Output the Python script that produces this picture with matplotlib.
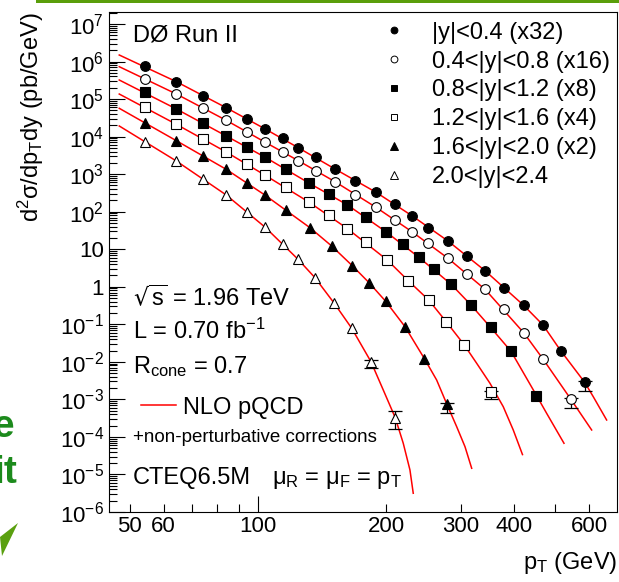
import matplotlib
matplotlib.use("Agg")
import numpy as np
import matplotlib.pyplot as plt
from matplotlib.lines import Line2D
from matplotlib.patches import Polygon, Rectangle
from matplotlib.ticker import FixedLocator, FixedFormatter, NullFormatter

plt.rcParams['font.family'] = ['Liberation Sans', 'DejaVu Sans']
plt.rcParams['mathtext.default'] = 'regular'

# ---------------- data ----------------
bin_labels = ['|y|<0.4 (x32)', '0.4<|y|<0.8 (x16)', '0.8<|y|<1.2 (x8)',
              '1.2<|y|<1.6 (x4)', '1.6<|y|<2.0 (x2)', '2.0<|y|<2.4']
scale = [32, 16, 8, 4, 2, 1]

# measured cross sections d2sigma/dpT dy (pb/GeV), unscaled
pt_y0 = [54.2, 64.3, 74.4, 84.2, 94.1, 104.0, 114.5, 124.4, 136.9, 151.7, 169.5, 189.4,
         209.9, 230.1, 251.6, 279.6, 309.4, 341.7, 379.3, 421.2, 467.6, 514.4, 586.0]
xs_y0 = [2.42e4, 9.08e3, 3.85e3, 1.84e3, 9.20e2, 4.99e2, 2.82e2, 1.58e2, 89.5, 42.9, 20.9,
         10.3, 4.92, 2.44, 1.17, 0.519, 0.210, 0.0838, 0.0290, 0.0100, 3.00e-3, 5.97e-4, 8.9e-5]

pt_y1 = [54.2, 64.3, 74.4, 84.2, 94.1, 104.0, 114.5, 124.4, 136.9, 151.7, 169.5, 189.4,
         209.9, 230.1, 251.6, 279.6, 309.4, 341.7, 379.3, 421.2, 467.6, 543.2]
xs_y1 = [2.18e4, 8.53e3, 3.55e3, 1.70e3, 8.45e2, 4.41e2, 2.48e2, 1.43e2, 77.3, 39.4, 17.7,
         8.18, 3.83, 1.83, 0.889, 0.359, 0.139, 0.0536, 0.0157, 3.74e-3, 7.45e-4, 6.41e-5]

pt_y2 = [54.2, 64.3, 74.4, 84.2, 94.1, 104.0, 116.6, 132.1, 147.2, 162.3, 179.7, 199.8,
         219.5, 238.9, 259.3, 284.7, 316.2, 352.0, 393.3, 450.1]
xs_y2 = [1.90e4, 6.81e3, 2.94e3, 1.30e3, 6.50e2, 3.52e2, 1.75e2, 71.4, 37.0, 18.9, 8.87,
         3.66, 1.69, 0.762, 0.361, 0.144, 0.0417, 0.0104, 2.39e-3, 1.54e-4]

pt_y3 = [54.2, 64.3, 74.4, 84.2, 94.1, 104.0, 116.6, 132.0, 146.8, 162.3, 179.7, 201.3,
         225.5, 251.9, 276.9, 304.9, 352.3]
xs_y3 = [1.57e4, 5.32e3, 2.20e3, 9.73e2, 4.67e2, 2.33e2, 1.16e2, 44.5, 20.8, 8.81, 3.83,
         1.29, 0.363, 0.111, 0.0294, 7.24e-3, 3.82e-4]

pt_y4 = [54.2, 64.3, 74.4, 84.2, 94.1, 104.0, 116.6, 132.5, 149.0, 166.6, 182.4, 199.6,
         221.6, 246.0, 278.0]
xs_y4 = [1.13e4, 3.89e3, 1.55e3, 6.73e2, 2.86e2, 1.37e2, 55.5, 18.7, 6.10, 1.82, 0.643,
         0.205, 0.0432, 6.14e-3, 3.70e-4]

pt_y5 = [54.2, 64.3, 74.4, 84.2, 94.1, 104.0, 114.3, 124.2, 136.1, 151.1, 166.1, 184.3, 210.2]
xs_y5 = [7.06e3, 2.24e3, 7.30e2, 2.79e2, 1.00e2, 38.4, 14.1, 5.40, 1.75, 0.363, 0.0783,
         0.0101, 3.25e-4]

# relative uncertainties of the highest-pT points (down, up)
err_lo = [[0.40], [0.42], [], [0.35], [0.41], [0.31, 0.49]]
err_hi = [[0.08], [0.08], [], [0.08], [0.08], [0.08, 0.54]]

# NLO pQCD (CTEQ6.5M) + non-perturbative corrections, unscaled
nlo_pt_y0 = [47.2, 64.3, 84.2, 104.0, 124.4, 151.7, 189.4, 230.1, 279.6, 341.7, 421.2,
             467.6, 514.4, 586.0, 613.8, 659.9]
nlo_y0 = [4.67e4, 9.08e3, 1.84e3, 4.99e2, 1.58e2, 42.9, 10.3, 2.44, 0.519, 0.0838, 0.0100,
          3.00e-3, 6.24e-4, 8.91e-5, 3.69e-5, 8.83e-6]

nlo_pt_y1 = [47.2, 64.3, 84.2, 104.0, 124.4, 151.7, 189.4, 230.1, 279.6, 341.7, 421.2,
             467.6, 543.2, 608.5]
nlo_y1 = [4.56e4, 8.53e3, 1.70e3, 4.42e2, 1.43e2, 39.4, 8.18, 1.83, 0.359, 0.0536, 3.74e-3,
          7.45e-4, 6.41e-5, 9.57e-6]

nlo_pt_y2 = [47.2, 64.3, 84.2, 104.0, 132.1, 162.3, 199.8, 238.9, 284.7, 316.2, 352.0,
             393.3, 450.1, 476.9, 523.9]
nlo_y2 = [4.03e4, 6.81e3, 1.30e3, 3.52e2, 71.4, 18.9, 3.66, 0.762, 0.144, 0.0417, 0.0104,
          2.39e-3, 1.69e-4, 5.33e-5, 8.47e-6]

nlo_pt_y3 = [47.2, 64.3, 84.2, 104.0, 132.0, 162.3, 201.3, 225.5, 251.9, 276.9, 304.9,
             326.6, 351.0, 377.1, 398.1, 418.5]
nlo_y3 = [3.41e4, 5.32e3, 9.73e2, 2.33e2, 44.5, 8.81, 1.29, 0.363, 0.111, 0.0294, 7.24e-3,
          2.29e-3, 6.71e-4, 1.60e-4, 3.83e-5, 8.47e-6]

nlo_pt_y4 = [47.2, 64.3, 84.2, 104.0, 132.5, 149.0, 166.6, 182.4, 199.6, 221.6, 246.0,
             263.0, 278.0, 293.1, 306.6, 317.9]
nlo_y4 = [2.84e4, 3.89e3, 6.73e2, 1.37e2, 18.7, 6.10, 1.82, 0.643, 0.205, 0.0432, 6.14e-3,
          1.64e-3, 3.70e-4, 9.38e-5, 2.75e-5, 7.31e-6]

nlo_pt_y5 = [47.2, 64.3, 84.2, 104.0, 124.2, 136.1, 151.1, 166.1, 184.3, 197.0, 210.2,
             219.5, 227.6, 231.7]
nlo_y5 = [1.92e4, 2.24e3, 2.79e2, 38.4, 5.40, 1.75, 0.363, 0.0783, 0.0101, 1.78e-3,
          3.25e-4, 6.78e-5, 1.32e-5, 3.16e-6]

y_tick_vals = [1e-6, 1e-5, 1e-4, 1e-3, 1e-2, 1e-1, 1, 10, 1e2, 1e3, 1e4, 1e5, 1e6, 1e7]
y_tick_labels = ['10$^{-6}$', '10$^{-5}$', '10$^{-4}$', '10$^{-3}$', '10$^{-2}$', '10$^{-1}$',
                 '1', '10', '10$^{2}$', '10$^{3}$', '10$^{4}$', '10$^{5}$', '10$^{6}$', '10$^{7}$']
x_minor_vals = [50, 60, 70, 80, 90, 200, 300, 400, 500, 600]
x_minor_labels = ['50', '60', '', '', '', '200', '300', '400', '', '600']

# ---------------- styling ----------------
pts = [pt_y0, pt_y1, pt_y2, pt_y3, pt_y4, pt_y5]
xss = [xs_y0, xs_y1, xs_y2, xs_y3, xs_y4, xs_y5]
nlo_pts = [nlo_pt_y0, nlo_pt_y1, nlo_pt_y2, nlo_pt_y3, nlo_pt_y4, nlo_pt_y5]
nlos = [nlo_y0, nlo_y1, nlo_y2, nlo_y3, nlo_y4, nlo_y5]
markers = ['o', 'o', 's', 's', '^', '^']
filled = [True, False, True, False, True, False]
msizes = [7.0, 7.0, 6.6, 6.6, 7.4, 7.4]

W, H = 619, 582
fig = plt.figure(figsize=(W / 100, H / 100), dpi=100)
ax = fig.add_axes([109 / W, 70 / H, 508 / W, 500 / H])
ax.set_xscale('log')
ax.set_yscale('log')
ax.set_xlim(44.65, 698)
ax.set_ylim(1e-6, 2.09e7)

for i in range(6):
    s = scale[i]
    ax.plot(nlo_pts[i], np.array(nlos[i]) * s, color='#ff0000', lw=1.1, zorder=2)

for i in range(6):
    s = scale[i]
    x = np.array(pts[i])
    y = np.array(xss[i]) * s
    n = len(err_lo[i])
    if n:
        xe = x[-n:]
        ye = y[-n:]
        lo = ye * np.array(err_lo[i])
        hi = ye * np.array(err_hi[i])
        ax.errorbar(xe, ye, yerr=[lo, hi], fmt='none', ecolor='black', elinewidth=0.9,
                    capsize=5, capthick=0.9, zorder=3)
    fc = 'black' if filled[i] else 'white'
    ax.plot(x, y, linestyle='none', marker=markers[i], ms=msizes[i], mfc=fc,
            mec='black', mew=0.8, zorder=4)

# axes ticks
ax.yaxis.set_major_locator(FixedLocator(y_tick_vals))
ax.yaxis.set_major_formatter(FixedFormatter(y_tick_labels))
ax.yaxis.set_minor_locator(matplotlib.ticker.LogLocator(base=10, subs=np.arange(2, 10), numticks=30))
ax.yaxis.set_minor_formatter(NullFormatter())
ax.xaxis.set_major_locator(FixedLocator([100, 1000]))
ax.xaxis.set_major_formatter(FixedFormatter(['100', '1000']))
ax.xaxis.set_minor_locator(FixedLocator(x_minor_vals))
ax.xaxis.set_minor_formatter(FixedFormatter(x_minor_labels))
ax.tick_params(which='both', direction='in', top=False, right=False, width=0.8,
               labelsize=16, colors='black')
ax.tick_params(which='major', length=11.5)
ax.tick_params(which='minor', length=5.8)
ax.tick_params(axis='y', which='both', pad=3.5)
ax.tick_params(axis='x', which='both', pad=3)
for sp in ax.spines.values():
    sp.set_linewidth(0.8)

ax.set_xlabel('p$_{T}$ (GeV)', fontsize=17, ha='right')
ax.xaxis.set_label_coords(1.0, -0.075)
ax.set_ylabel('d$^{2}$σ/dp$_{T}$dy (pb/GeV)', fontsize=17, ha='right')
ax.yaxis.set_label_coords(-0.124, 1.0)

# legend of rapidity bins
handles = []
for i in range(6):
    fc = 'black' if filled[i] else 'white'
    handles.append(Line2D([], [], linestyle='none', marker=markers[i], ms=msizes[i] * 0.7,
                          mfc=fc, mec='black', mew=0.7))
leg = ax.legend(handles, bin_labels, loc='upper left', bbox_to_anchor=(0.5378, 0.9806),
                frameon=False, fontsize=17, handlelength=1.0, handletextpad=1.11,
                labelspacing=0.29, borderpad=0, borderaxespad=0)
ax.add_artist(leg)

leg2 = ax.legend([Line2D([], [], color='#ff0000', lw=1.1)], ['NLO pQCD'], loc='center left',
                 bbox_to_anchor=(0.063, 0.2086), frameon=False, fontsize=17,
                 handlelength=1.48, handletextpad=0.3, borderpad=0, borderaxespad=0)

tx = 0.0472
ax.text(tx, 0.9406, 'DØ Run II', transform=ax.transAxes, fontsize=17, va='baseline')
ax.text(tx, 0.412, r'$\sqrt{s}$ = 1.96 TeV', transform=ax.transAxes, fontsize=17, va='baseline')
ax.text(tx, 0.3453, 'L = 0.70 fb$^{-1}$', transform=ax.transAxes, fontsize=17, va='baseline')
ax.text(tx, 0.2773, 'R$_{cone}$ = 0.7', transform=ax.transAxes, fontsize=17, va='baseline')
ax.text(tx, 0.1407, '+non-perturbative corrections', transform=ax.transAxes, fontsize=13.5,
        va='baseline')
ax.text(tx, 0.056, 'CTEQ6.5M', transform=ax.transAxes, fontsize=17, va='baseline')
ax.text(0.321, 0.056, 'μ$_{R}$ = μ$_{F}$ = p$_{T}$', transform=ax.transAxes, fontsize=17,
        va='baseline')

# slide decorations around the figure
fig.patches.append(Rectangle((36 / W, 1 - 3.0 / H), 1 - 36 / W, 3.0 / H,
                             transform=fig.transFigure, color='#5a9e0a', lw=0))
fig.text(14 / W, 1 - 437 / H, 'e', color='#1c8a1c', fontsize=28, fontweight='bold',
         ha='right', va='baseline')
fig.text(17 / W, 1 - 483 / H, 'it', color='#1c8a1c', fontsize=28, fontweight='bold',
         ha='right', va='baseline')
fig.patches.append(Polygon([(0 / W, 1 - 537 / H), (18 / W, 1 - 523 / H), (2 / W, 1 - 556 / H)],
                           closed=True, transform=fig.transFigure, color='#5aa010', lw=0))

fig.savefig('out.png', dpi=100)
